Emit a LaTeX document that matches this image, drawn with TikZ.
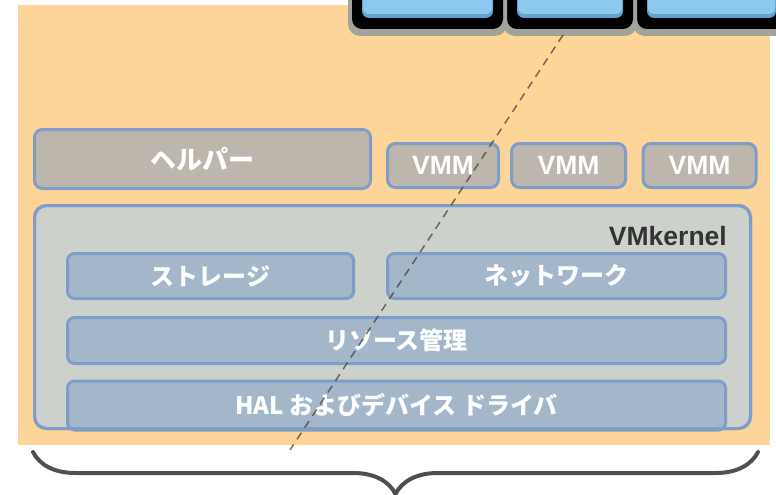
\documentclass[tikz,border=0pt]{standalone}
\usepackage{fontspec}
\setmainfont{Liberation Sans}
\newfontfamily\jpfont{Noto Sans CJK JP}
\usetikzlibrary{decorations.pathreplacing}

\definecolor{orangebg}{HTML}{FDD599}
\definecolor{partgrey}{HTML}{BDB6AC}
\definecolor{edgeblue}{HTML}{7F9DC9}
\definecolor{kernelgrey}{HTML}{CDD1CB}
\definecolor{innerblue}{HTML}{A3B6CA}
\definecolor{monblue}{HTML}{8DC8ED}
\definecolor{monbluedark}{HTML}{5FA4D0}
\definecolor{monrim}{HTML}{A3A29B}
\definecolor{bracegrey}{HTML}{4F4F4F}
\definecolor{dashbrown}{HTML}{4D4033}
\definecolor{labeldark}{HTML}{333333}

\begin{document}
\begin{tikzpicture}[
    x=1pt, y=-1pt,
    layer/.style={draw=edgeblue, line width=3pt, rounded corners=8pt, outer sep=0pt, inner sep=0pt, text=white, font=\jpfont\bfseries\fontsize{24}{24}\selectfont},
    partbox/.style={layer, fill=partgrey},
    kernelpart/.style={layer, fill=innerblue, rounded corners=7pt},
    vmmbox/.style={partbox, font=\bfseries\fontsize{26.5}{26.5}\selectfont, minimum height=44pt},
]
\useasboundingbox (0,0) rectangle (776,495);
\fill[orangebg] (18,5) rectangle (770,445);

% screens along the top edge, right one first
\begin{scope}
\clip (0,0) rectangle (776,495);
\foreach \xa/\xb in {633/790, 503/637, 348/507} {
  \fill[monrim, rounded corners=12pt] (\xa,-30) rectangle (\xb,36);
  \fill[black, rounded corners=10pt] (\xa+4,-30) rectangle (\xb-4,29);
  \fill[monbluedark, rounded corners=7pt] (\xa+14,-30) rectangle (\xb-14,18);
  \fill[monblue, rounded corners=6pt] (\xa+15,-30) rectangle (\xb-15,14);
}
\end{scope}

\node[partbox, minimum width=336pt, minimum height=59pt, font=\jpfont\bfseries\fontsize{26}{26}\selectfont] (helper) at (202.5,159) {ヘルパー};
\foreach \cx/\w [count=\i] in {443/111, 568.5/114, 699.5/113} {
  \node[vmmbox, minimum width=\w pt] (vmm\i) at (\cx,165.5) {VMM};
}

\node[layer, fill=kernelgrey, rounded corners=12pt, minimum width=716pt, minimum height=223pt] (vmkernel) at (392.5,317) {};
\node[anchor=east, inner sep=0pt, text=labeldark, font=\bfseries\fontsize{26.5}{26.5}\selectfont] (kernlabel) at (727,236) {VMkernel};

\node[kernelpart, minimum width=286pt, minimum height=45pt] (storage) at (210.5,276) {ストレージ};
\node[kernelpart, minimum width=338pt, minimum height=45pt] (network) at (556.5,276) {ネットワーク};
\node[kernelpart, minimum width=658pt, minimum height=46pt] (resource) at (396.5,340.5) {リソース管理};
\node[kernelpart, minimum width=658pt, minimum height=49pt] (hal) at (396.5,405.5) {HAL およびデバイス ドライバ};
\draw[edgeblue, line width=3pt, rounded corners=12pt] (vmkernel.south west) rectangle (vmkernel.north east);

\coordinate (dashtop) at (563,35);
\coordinate (dashbot) at (290,450);
\draw[dashbrown, opacity=0.75, line width=1.5pt, dash pattern=on 8pt off 6pt] (dashtop) -- (dashbot);

\coordinate (braceL) at (33,452);
\coordinate (braceR) at (758,452);
\draw[bracegrey, line width=4pt, line cap=round, decorate, decoration={brace, amplitude=42pt, mirror}] (braceL) -- (braceR);
\end{tikzpicture}
\end{document}
